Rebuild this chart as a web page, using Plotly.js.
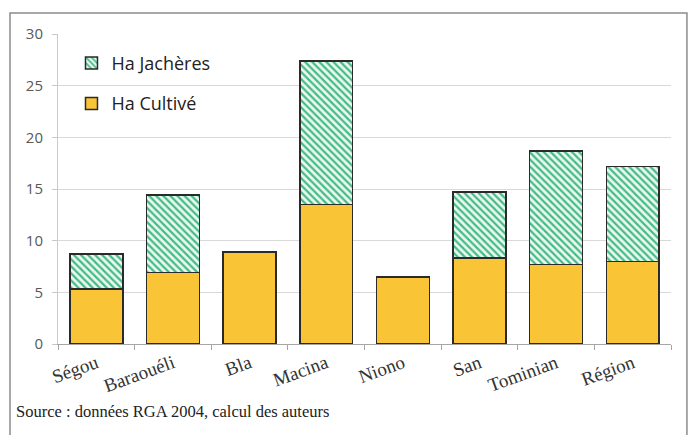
<!DOCTYPE html>
<html>
<head>
<meta charset="utf-8">
<script src="https://cdn.plot.ly/plotly-3.0.1.min.js"></script>
<style>html,body{margin:0;padding:0;background:#fff;}#chart{width:691px;height:435px;}</style>
</head>
<body>
<div id="chart"></div>
<script>
const categories = ["Ségou", "Baraouéli", "Bla", "Macina", "Niono", "San", "Tominian", "Région"];
const haCultive = [5.3, 6.9, 8.9, 13.5, 6.5, 8.3, 7.7, 8.0];
const haJacheres = [3.4, 7.5, 0, 13.9, 0, 6.4, 11.0, 9.2];
const yTicks = [0, 5, 10, 15, 20, 25, 30];
const sourceText = "Source : données RGA 2004, calcul des auteurs";

const traces = [
  {
    type: "bar", name: "Ha Cultivé", x: categories, y: haCultive,
    legendgroup: "c", legendrank: 2,
    marker: { color: "#F9C536", line: { color: "#2a2a2a", width: 1.5 } },
    hoverinfo: "x+y"
  },
  {
    type: "bar", name: "Ha Jachères", x: categories, y: haJacheres,
    legendgroup: "j", legendrank: 1,
    marker: {
      color: "#ffffff",
      line: { color: "#2a2a2a", width: 1.5 },
      pattern: { shape: "\\", fgcolor: "#45bb86", bgcolor: "#eaf8f1", size: 5, solidity: 0.45 }
    },
    hoverinfo: "x+y"
  }
];

const layout = {
  width: 691, height: 435,
  margin: { l: 58, r: 20, t: 34, b: 91 },
  paper_bgcolor: "#ffffff", plot_bgcolor: "#ffffff",
  barmode: "stack", bargap: 0.31,
  showlegend: true,
  legend: {
    x: 0.022, y: 0.965, xanchor: "left", yanchor: "top",
    traceorder: "grouped", tracegroupgap: 14,
    font: { family: "Open Sans, Noto Sans, sans-serif", size: 18, color: "#222" },
    bgcolor: "rgba(0,0,0,0)", itemwidth: 30
  },
  xaxis: {
    type: "category",
    tickangle: -20,
    tickfont: { family: "Liberation Serif, Times New Roman, serif", size: 19, color: "#333" },
    showline: true, linecolor: "#a6a6a6", linewidth: 1,
    ticks: "outside", ticklen: 5, tickcolor: "#a6a6a6", tickson: "boundaries",
    showgrid: false, zeroline: false
  },
  yaxis: {
    range: [0, 30], tickvals: yTicks,
    tickfont: { family: "Open Sans, Noto Sans, sans-serif", size: 15, color: "#595959" },
    showgrid: true, gridcolor: "#d9d9d9", gridwidth: 1,
    showline: true, linecolor: "#c8c8d8", linewidth: 1,
    ticks: "outside", ticklen: 5, tickcolor: "#c8c8c8",
    zeroline: false, ticklabelstandoff: 6
  },
  shapes: [
    { type: "rect", xref: "paper", yref: "paper", x0: -0.0783, x1: 1.026, y0: -0.33, y1: 1.0677,
      line: { color: "#8c8c8c", width: 1.5 }, fillcolor: "rgba(0,0,0,0)", layer: "below" }
  ],
  annotations: [
    { text: sourceText, xref: "paper", yref: "paper", x: -0.072, y: -0.219, xanchor: "left", yanchor: "middle",
      showarrow: false, font: { family: "Liberation Serif, Times New Roman, serif", size: 16.5, color: "#222" } }
  ]
};

Plotly.newPlot("chart", traces, layout, { displayModeBar: false, staticPlot: true });
</script>
</body>
</html>
